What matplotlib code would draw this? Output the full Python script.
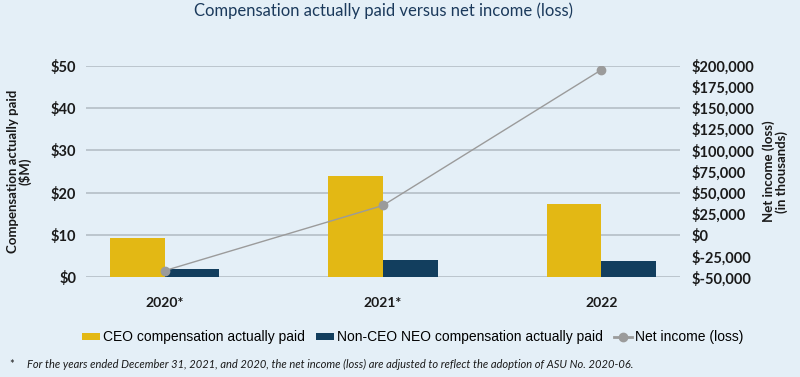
import matplotlib
matplotlib.use("Agg")
import matplotlib.pyplot as plt
import numpy as np
from matplotlib.lines import Line2D
from matplotlib.patches import Patch

years = ["2020*", "2021*", "2022"]
ceo_cap = [9.3, 23.9, 17.3]
neo_cap = [2.1, 4.1, 3.8]
net_income = [-42000, 35000, 195000]
left_ticks = [0, 10, 20, 30, 40, 50]
right_ticks = [-50000, -25000, 0, 25000, 50000, 75000, 100000, 125000, 150000, 175000, 200000]

bg = "#E4EFF7"
gold = "#E3B814"
navy = "#123E5E"
gray = "#9B9B9B"
txt = "#1A1A1A"
title_c = "#1B3A5C"

plt.rcParams['font.family'] = ['Lato', 'DejaVu Sans']

fig = plt.figure(figsize=(8, 3.77), dpi=100, facecolor=bg)
ax = fig.add_axes([0.1075, 0.264, 0.7425, 0.562])
ax.set_facecolor(bg)
x = np.arange(len(years))
w = 0.25
ax.bar(x - w/2, ceo_cap, w, color=gold, zorder=3)
ax.bar(x + w/2, neo_cap, w, color=navy, zorder=3)
ax.set_ylim(0, 50)
ax.set_yticks(left_ticks)
ax.set_yticklabels([f"${v}" for v in left_ticks], fontsize=10.5, fontweight='bold', color=txt)
ax.yaxis.grid(True, color="#B5BEC6", linewidth=1.2, zorder=0)
ax.set_axisbelow(True)
ax.set_xlim(-0.36, 2.36)
ax.set_xticks(x)
ax.set_xticklabels(years, fontsize=10, fontweight='bold', color=txt)
ax.tick_params(axis='x', length=0, pad=14)
ax.tick_params(axis='y', length=0, pad=7)
for s in ax.spines.values():
    s.set_visible(False)

ax2 = ax.twinx()
ax2.plot(x, net_income, color=gray, linewidth=1.0, marker='o', markersize=6, zorder=5)
ax2.set_ylim(-50000, 200000)
ax2.set_yticks(right_ticks)
ax2.set_yticklabels([f"${v:,}" for v in right_ticks], fontsize=10.5, fontweight='bold', color=txt)
ax2.tick_params(axis='y', length=0, pad=8)
for s in ax2.spines.values():
    s.set_visible(False)

fig.text(0.024, 0.545, "Compensation actually paid\n($M)", rotation=90, ha='center', va='center',
         fontsize=9.5, fontweight='bold', color=txt, linespacing=1.0)
fig.text(0.969, 0.545, "Net income (loss)\n(in thousands)", rotation=90, ha='center', va='center',
         fontsize=9.5, fontweight='bold', color=txt, linespacing=1.0)

fig.text(0.48, 0.972, "Compensation actually paid versus net income (loss)", ha='center', va='center',
         fontsize=12, color=title_c)

handles = [Patch(facecolor=gold, edgecolor='none'), Patch(facecolor=navy, edgecolor='none'),
           Line2D([0], [0], color=gray, marker='o', markersize=6, linewidth=2)]
labels = ["CEO compensation actually paid", "Non-CEO NEO compensation actually paid", "Net income (loss)"]
leg = fig.legend(handles, labels, loc='center', bbox_to_anchor=(0.516, 0.105), ncol=3, frameon=False,
                 handlelength=1.3, handleheight=0.35, handletextpad=0.2, columnspacing=0.8,
                 prop={'family': ['Liberation Sans', 'DejaVu Sans'], 'size': 10})

fig.text(0.012, 0.032, "*", fontsize=8, color=txt, va='center')
fig.text(0.034, 0.032, "For the years ended December 31, 2021, and 2020, the net income (loss) are adjusted to reflect the adoption of ASU No. 2020-06.",
         fontsize=8.0, style='italic', color=txt, va='center')

fig.savefig("out.png", dpi=100, facecolor=bg)
